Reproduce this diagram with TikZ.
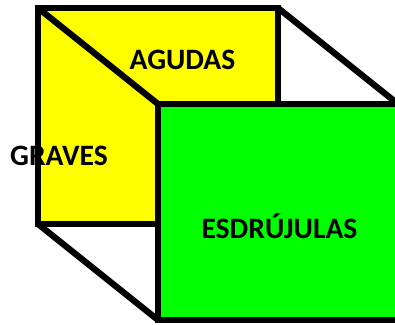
\documentclass[tikz,border=0pt]{standalone}
\usepackage{fontspec}
\setmainfont{Carlito}
\definecolor{pureyellow}{RGB}{255,255,0}
\definecolor{puregreen}{RGB}{0,255,0}
\tikzset{
  edge/.style={line width=6.3pt,line join=miter,line cap=butt},
  lbl/.style={font=\fontsize{29.6}{34}\selectfont\bfseries,text=black,inner sep=0pt},
  backface/.style={edge,fill=pureyellow},
  frontface/.style={edge,fill=puregreen}
}
\begin{document}
\begin{tikzpicture}[x=1pt,y=-1pt]
\useasboundingbox (0,0) rectangle (395,324);
\coordinate (btl) at (38,8);
\coordinate (btr) at (278,8);
\coordinate (bbl) at (38,224);
\coordinate (bbr) at (278,224);
\coordinate (ftl) at (158,104);
\coordinate (ftr) at (398,104);
\coordinate (fbl) at (158,320);
\coordinate (fbr) at (398,320);
\draw[backface] (btl) -- (btr) -- (bbr) -- (bbl) -- cycle;
\draw[edge] (btl) -- (ftl);
\draw[edge] (btr) -- (ftr);
\draw[edge] (bbl) -- (fbl);
\draw[frontface] (ftl) -- (ftr) -- (fbr) -- (fbl) -- cycle;
\node[lbl] (agudas) at (182.5,60) {AGUDAS};
\node[lbl] (graves) at (59,156) {GRAVES};
\node[lbl] (esdr) at (279.5,226.5) {ESDRÚJULAS};
\end{tikzpicture}
\end{document}
